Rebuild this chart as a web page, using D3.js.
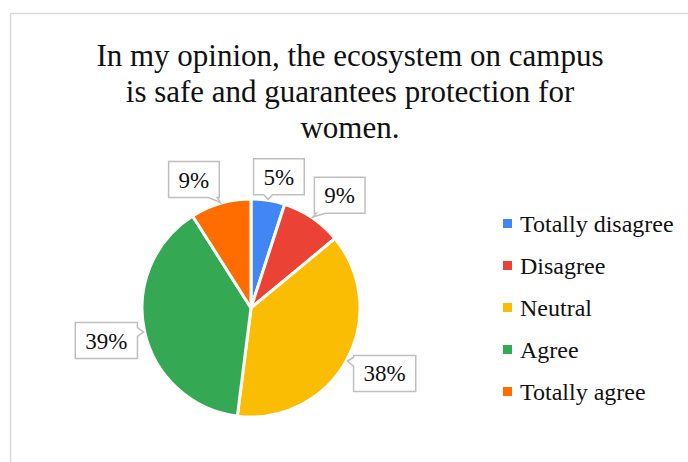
<!DOCTYPE html>
<html>
<head>
<meta charset="utf-8">
<script src="https://cdn.jsdelivr.net/npm/d3@7"></script>
<style>
  html, body { margin: 0; padding: 0; background: #fff; }
  svg { display: block; }
</style>
</head>
<body>
<svg id="chart" width="688" height="462"></svg>
<script>
// Survey responses
const categories = ["Totally disagree", "Disagree", "Neutral", "Agree", "Totally agree"];
const percents = [5, 9, 38, 39, 9];
const colors = ["#4285F4", "#EA4335", "#FBBC04", "#34A853", "#FF6D01"];
const titleLines = [
  "In my opinion, the ecosystem on campus",
  "is safe and guarantees protection for",
  "women."
];

const FONT = "'Liberation Serif', 'Times New Roman', serif";
const svg = d3.select("#chart").style("font-family", FONT);
const W = 688, H = 462;

// chart frame (open on right and bottom edges of the page)
svg.append("rect")
  .attr("x", 10.5).attr("y", 13.5)
  .attr("width", W + 20).attr("height", H + 20)
  .attr("fill", "#fff")
  .attr("stroke", "#d9d9d9").attr("stroke-width", 1.5);

// title
svg.append("g")
  .selectAll("text")
  .data(titleLines)
  .join("text")
  .attr("x", 350)
  .attr("y", (d, i) => 66 + i * 36)
  .attr("text-anchor", "middle")
  .style("font-family", FONT)
  .attr("font-size", 31)
  .attr("fill", "#111")
  .text(d => d);

// pie
const cx = 251, cy = 308, R = 109;
const pie = d3.pie().sort(null).value(d => d.v);
const arcs = pie(percents.map((v, i) => ({ v, name: categories[i], color: colors[i] })));
const arc = d3.arc().innerRadius(0).outerRadius(R);

const g = svg.append("g").attr("transform", `translate(${cx},${cy})`);
g.selectAll("path.slice")
  .data(arcs)
  .join("path")
  .attr("class", "slice")
  .attr("d", arc)
  .attr("fill", d => d.data.color)
  .attr("stroke", "#fff")
  .attr("stroke-width", 3)
  .attr("stroke-linejoin", "round");

// data callouts
const labelDist = 140;
const labelShift = [[6, 7], [10, 3], [11, -2], [-8, 2], [-18, 6]];
const boxH = 36, padX = 10, notchW = 9;

function polar(a, r) { return [Math.sin(a) * r, -Math.cos(a) * r]; }

const labels = g.append("g");
arcs.forEach((d, i) => {
  const mid = (d.startAngle + d.endAngle) / 2;
  const [px, py] = polar(mid, labelDist);
  const lx = px + labelShift[i][0], ly = py + labelShift[i][1];
  const tip = polar(mid, R + 1);

  const grp = labels.append("g");
  const path = grp.append("path");
  const txt = grp.append("text")
    .attr("x", lx).attr("y", ly + 8)
    .attr("text-anchor", "middle")
    .style("font-family", FONT)
    .attr("font-size", 23)
    .attr("fill", "#111")
    .text(d.data.v + "%");
  const tw = txt.node().getComputedTextLength();
  const bw = tw + 2 * padX;
  const x0 = lx - bw / 2, x1 = lx + bw / 2, y0 = ly - boxH / 2, y1 = ly + boxH / 2;
  const [tx, ty] = tip;

  // choose the edge facing the slice
  const over = {
    top: y0 - ty, bottom: ty - y1, left: x0 - tx, right: tx - x1
  };
  const edge = Object.keys(over).reduce((a, b) => over[a] >= over[b] ? a : b);
  const clamp = (v, lo, hi) => Math.max(lo, Math.min(hi, v));

  let pts;
  if (edge === "bottom") {
    const s = clamp(tx - notchW / 2, x0 + 2, x1 - 2 - notchW);
    pts = [[x0, y0], [x1, y0], [x1, y1], [s + notchW, y1], [tx, ty], [s, y1], [x0, y1]];
  } else if (edge === "top") {
    const s = clamp(tx - notchW / 2, x0 + 2, x1 - 2 - notchW);
    pts = [[x0, y0], [s, y0], [tx, ty], [s + notchW, y0], [x1, y0], [x1, y1], [x0, y1]];
  } else if (edge === "right") {
    const s = clamp(ty - notchW / 2, y0 + 2, y1 - 2 - notchW);
    pts = [[x0, y0], [x1, y0], [x1, s], [tx, ty], [x1, s + notchW], [x1, y1], [x0, y1]];
  } else {
    const s = clamp(ty - notchW / 2, y0 + 2, y1 - 2 - notchW);
    pts = [[x0, y0], [x1, y0], [x1, y1], [x0, y1], [x0, s + notchW], [tx, ty], [x0, s]];
  }
  path.attr("d", d3.line()(pts) + "Z")
    .attr("fill", "#fff")
    .attr("stroke", "#bfbfbf")
    .attr("stroke-width", 1.5);
});

// legend
const legend = svg.append("g").attr("transform", "translate(503,224)");
const rows = legend.selectAll("g")
  .data(categories)
  .join("g")
  .attr("transform", (d, i) => `translate(0,${i * 42})`);
rows.append("rect")
  .attr("x", 0).attr("y", -5)
  .attr("width", 9).attr("height", 9)
  .attr("fill", (d, i) => colors[i]);
rows.append("text")
  .attr("x", 17).attr("y", 8)
  .style("font-family", FONT)
  .attr("font-size", 24)
  .attr("fill", "#111")
  .text(d => d);
</script>
</body>
</html>
